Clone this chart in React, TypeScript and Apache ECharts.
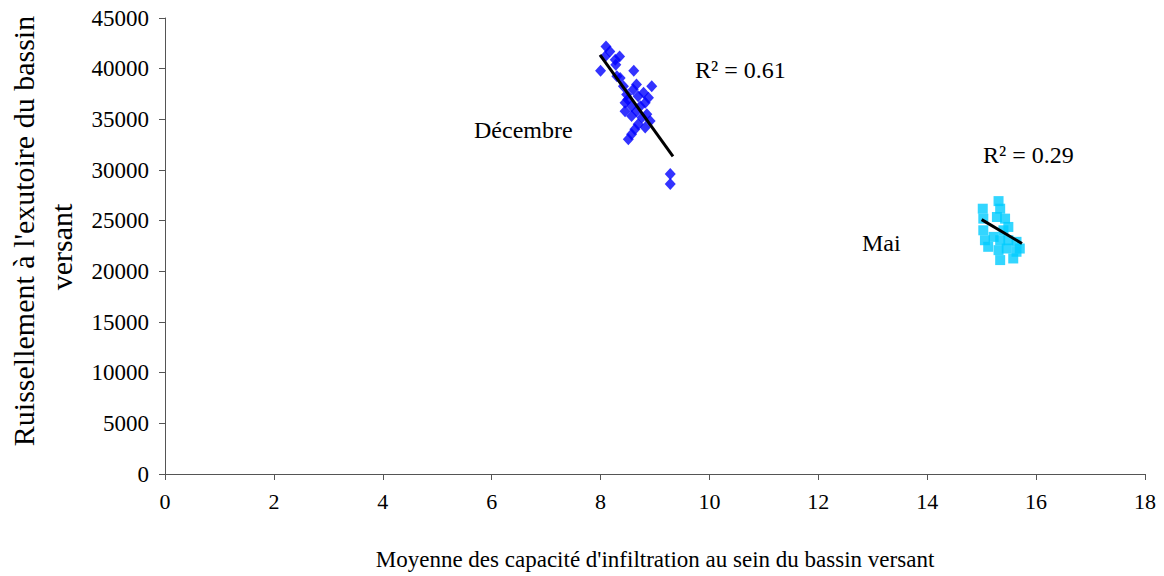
import React, { useEffect, useRef } from "react";
import * as echarts from "echarts";

// Décembre (blue diamonds)
const decX = [8.10, 8.17, 8.35, 8.00, 8.27, 8.28, 8.61, 8.30, 8.36, 8.94, 8.66, 8.42, 8.60, 8.79, 8.88, 8.48, 8.69, 8.82, 8.45, 8.57, 8.73, 8.45, 8.66, 8.85, 8.57, 8.76, 8.91, 8.69, 8.82, 8.63, 8.57, 8.51, 9.28, 9.28, 8.08, 8.50];
const decY = [42190, 41700, 41210, 39800, 40880, 40390, 39800, 39250, 39090, 38270, 38430, 38270, 37940, 37620, 37130, 37450, 37280, 36640, 36640, 36300, 36300, 35810, 35810, 35490, 35320, 35170, 34830, 34510, 34190, 34020, 33530, 33040, 29610, 28630, 41180, 36960];

// Mai (cyan squares)
const mayX = [15.02, 15.03, 15.03, 15.06, 15.12, 15.31, 15.34, 15.28, 15.43, 15.49, 15.40, 15.22, 15.34, 15.49, 15.64, 15.31, 15.46, 15.64, 15.70, 15.34, 15.58];
const mayY = [26180, 25200, 24050, 23070, 22420, 26930, 26180, 25360, 25200, 24380, 24050, 23400, 23070, 23070, 22910, 22090, 22250, 21930, 22250, 21110, 21270];

// Trend lines (read endpoints)
const decTrendX = [7.99, 9.33];
const decTrendY = [41370, 31340];
const mayTrendX = [15.0, 15.74];
const mayTrendY = [25100, 22750];

const xTitle = "Moyenne des capacité d'infiltration au sein du bassin versant";
const yTitle1 = "Ruissellement à l'exutoire du bassin";
const yTitle2 = "versant";
const decLabel = "Décembre";
const mayLabel = "Mai";
const decR2 = "R² = 0.61";
const mayR2 = "R² = 0.29";

const FONT = "'Liberation Serif', serif";

const zip = (xs: number[], ys: number[]) => xs.map((x, i) => [x, ys[i]]);

export default function App() {
  const ref = useRef<HTMLDivElement>(null);
  useEffect(() => {
    if (!ref.current) return;
    const chart = echarts.init(ref.current, null, { renderer: "svg" });
    const axisLine = { lineStyle: { color: "#555", width: 1 } };
    const txt = (size: number) => ({ fill: "#000", fontFamily: FONT, fontSize: size });
    chart.setOption({
      animation: false,
      backgroundColor: "#ffffff",
      textStyle: { fontFamily: FONT },
      grid: { left: 165, right: 19, top: 18, bottom: 99, containLabel: false },
      xAxis: {
        type: "value",
        min: 0,
        max: 18,
        interval: 2,
        axisLine: { show: true, onZero: false, ...axisLine },
        axisTick: { show: true, inside: false, length: 6, lineStyle: { color: "#555" } },
        splitLine: { show: false },
        axisLabel: { color: "#000", fontFamily: FONT, fontSize: 22, margin: 16, formatter: (v: number) => String(v) },
        name: xTitle,
        nameLocation: "middle",
        nameGap: 74,
        nameTextStyle: { color: "#000", fontFamily: FONT, fontSize: 23 },
      },
      yAxis: {
        type: "value",
        min: 0,
        max: 45000,
        interval: 5000,
        axisLine: { show: true, onZero: false, ...axisLine },
        axisTick: { show: true, inside: false, length: 6, lineStyle: { color: "#555" } },
        splitLine: { show: false },
        axisLabel: { color: "#000", fontFamily: FONT, fontSize: 23, margin: 16, formatter: (v: number) => String(v) },
      },
      graphic: [
        {
          type: "text",
          x: 23,
          y: 231,
          rotation: Math.PI / 2,
          style: { text: yTitle1, ...txt(30), textAlign: "center", textVerticalAlign: "middle" },
        },
        {
          type: "text",
          x: 61,
          y: 247,
          rotation: Math.PI / 2,
          style: { text: yTitle2, ...txt(30), textAlign: "center", textVerticalAlign: "middle" },
        },
        {
          type: "text",
          x: 474,
          y: 130,
          style: { text: decLabel, ...txt(24), textAlign: "left", textVerticalAlign: "middle" },
        },
        {
          type: "text",
          x: 862,
          y: 243,
          style: { text: mayLabel, ...txt(24), textAlign: "left", textVerticalAlign: "middle" },
        },
        {
          type: "text",
          x: 695,
          y: 70,
          style: { text: decR2, ...txt(24), textAlign: "left", textVerticalAlign: "middle" },
        },
        {
          type: "text",
          x: 983,
          y: 155,
          style: { text: mayR2, ...txt(24), textAlign: "left", textVerticalAlign: "middle" },
        },
      ],
      series: [
        {
          name: "Décembre",
          type: "scatter",
          data: zip(decX, decY),
          symbol: "diamond",
          symbolSize: [11, 12],
          itemStyle: { color: "#0000FF" },
          z: 2,
        },
        {
          name: "Mai",
          type: "scatter",
          data: zip(mayX, mayY),
          symbol: "rect",
          symbolSize: 10,
          itemStyle: { color: "#00CCFF" },
          z: 2,
        },
        {
          name: "Tendance Décembre",
          type: "line",
          data: zip(decTrendX, decTrendY),
          symbol: "none",
          lineStyle: { color: "#000", width: 3 },
          z: 3,
        },
        {
          name: "Tendance Mai",
          type: "line",
          data: zip(mayTrendX, mayTrendY),
          symbol: "none",
          lineStyle: { color: "#000", width: 3 },
          z: 3,
        },
      ],
    });
    return () => chart.dispose();
  }, []);
  return (
    <div
      ref={ref}
      style={{ position: "absolute", left: 0, top: 0, width: 1164, height: 576 }}
    />
  );
}
